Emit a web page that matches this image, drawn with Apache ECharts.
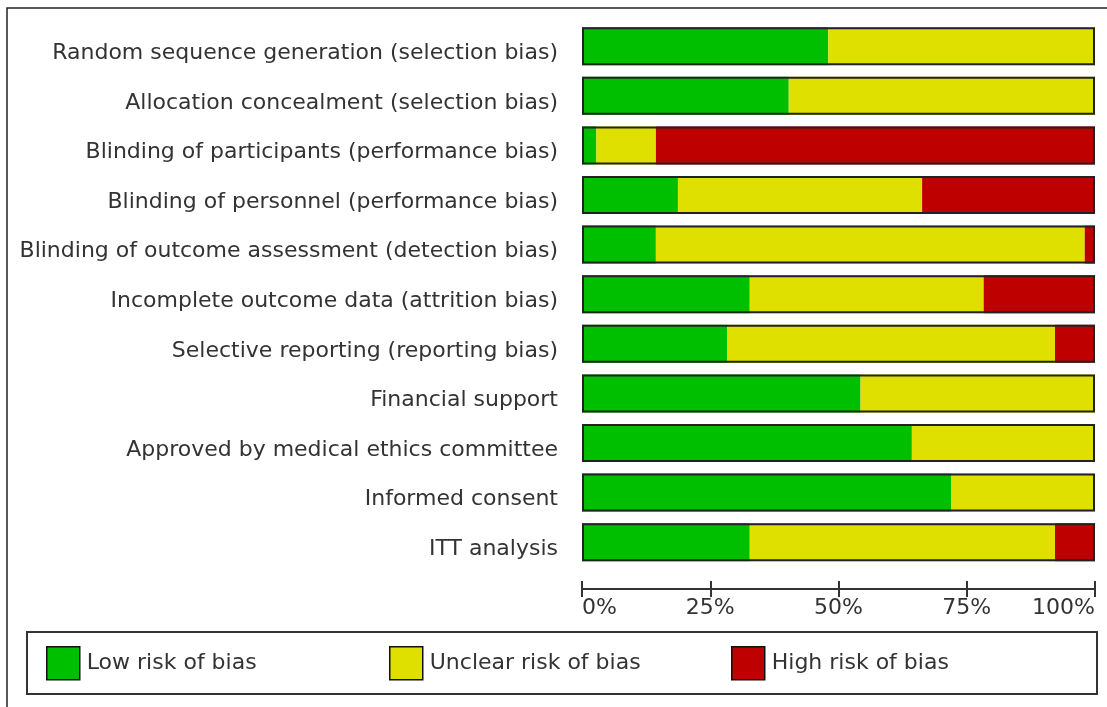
<!DOCTYPE html>
<html lang="en">
<head>
    <meta charset="UTF-8">
    <title>Risk of bias graph</title>
    <style>
        html, body {
            margin: 0;
            padding: 0;
            background: #ffffff;
        }

        #rob {
            width: 1107px;
            height: 707px;
        }
    </style>
</head>
<body>
<div id="rob"></div>
<script src="https://cdn.jsdelivr.net/npm/echarts@6/dist/echarts.min.js"></script>
<script>
    /*数据*/
    var categories = [
        'Random sequence generation (selection bias)',
        'Allocation concealment (selection bias)',
        'Blinding of participants (performance bias)',
        'Blinding of personnel (performance bias)',
        'Blinding of outcome assessment (detection bias)',
        'Incomplete outcome data (attrition bias)',
        'Selective reporting (reporting bias)',
        'Financial support',
        'Approved by medical ethics committee',
        'Informed consent',
        'ITT analysis'
    ];
    var lowRisk = [48.0, 40.3, 2.8, 18.7, 14.4, 32.7, 28.3, 54.3, 64.3, 72.0, 32.7];
    var unclearRisk = [52.0, 59.7, 11.6, 47.6, 83.6, 45.6, 63.9, 45.7, 35.7, 28.0, 59.5];
    var highRisk = [0, 0, 85.6, 33.7, 2.0, 21.7, 7.8, 0, 0, 0, 7.8];
    var fullBar = [100, 100, 100, 100, 100, 100, 100, 100, 100, 100, 100];
    var tickValues = [0, 25, 50, 75, 100];
    var legendNames = ['Low risk of bias', 'Unclear risk of bias', 'High risk of bias'];

    var font = 'DejaVu Sans';
    var textColor = '#333333';

    // 图例，一项一个，位置固定
    var legendLeft = [46, 389, 731];
    var legends = [];
    for (var i = 0; i < legendNames.length; i++) {
        legends.push({
            data: [legendNames[i]],
            left: legendLeft[i],
            top: 646,
            padding: 0,
            itemWidth: 33,
            itemHeight: 33,
            icon: 'rect',
            itemStyle: {borderColor: '#111111', borderWidth: 1.5},
            textStyle: {
                fontFamily: font,
                fontSize: 22,
                color: textColor,
                padding: [0, 0, 0, 2]
            },
            selectedMode: false
        });
    }

    var rob = echarts.init(document.getElementById('rob'));
    var rob_option = {
        animation: false,
        backgroundColor: '#ffffff',
        textStyle: {fontFamily: font},
        grid: {
            left: 582,
            right: 12,
            top: 21.4,
            height: 545.6,
            containLabel: false
        },
        legend: legends,
        xAxis: [
            {
                type: 'value',
                min: tickValues[0],
                max: tickValues[tickValues.length - 1],
                interval: 25,
                position: 'bottom',
                offset: 22,
                axisLine: {show: true, lineStyle: {color: '#333333', width: 2}},
                axisTick: {show: true, length: 8, lineStyle: {color: '#333333', width: 2}},
                splitLine: {show: false},
                axisLabel: {
                    formatter: '{value}%',
                    fontFamily: font,
                    fontSize: 22,
                    color: textColor,
                    margin: 8,
                    alignMinLabel: 'left',
                    alignMaxLabel: 'right'
                }
            },
            {
                type: 'value',
                min: tickValues[0],
                max: tickValues[tickValues.length - 1],
                interval: 25,
                position: 'bottom',
                offset: 22,
                axisLine: {show: false},
                axisTick: {show: true, inside: true, length: 8, lineStyle: {color: '#333333', width: 2}},
                splitLine: {show: false},
                axisLabel: {show: false}
            }
        ],
        yAxis: {
            type: 'category',
            data: categories,
            inverse: true,
            axisLine: {show: false},
            axisTick: {show: false},
            axisLabel: {
                fontFamily: font,
                fontSize: 22,
                color: textColor,
                margin: 24,
                verticalAlign: 'top',
                lineHeight: 14
            }
        },
        series: [
            {
                name: 'Low risk of bias',
                type: 'bar',
                stack: 'rob',
                barWidth: 38,
                data: lowRisk,
                itemStyle: {color: '#00bf00'},
                silent: true
            },
            {
                name: 'Unclear risk of bias',
                type: 'bar',
                stack: 'rob',
                barWidth: 38,
                data: unclearRisk,
                itemStyle: {color: '#e0e000'},
                silent: true
            },
            {
                name: 'High risk of bias',
                type: 'bar',
                stack: 'rob',
                barWidth: 38,
                data: highRisk,
                itemStyle: {color: '#bf0000'},
                silent: true
            },
            {
                // 外框
                name: 'outline',
                type: 'bar',
                barWidth: 38,
                barGap: '-100%',
                data: fullBar,
                z: 3,
                itemStyle: {color: 'transparent', borderColor: '#222222', borderWidth: 2},
                silent: true
            }
        ],
        graphic: [
            {
                type: 'rect',
                shape: {x: 7, y: 8, width: 1200, height: 800},
                style: {fill: 'none', stroke: '#222222', lineWidth: 1.5},
                silent: true,
                z: -1
            },
            {
                type: 'rect',
                shape: {x: 27, y: 632, width: 1070, height: 62},
                style: {fill: 'none', stroke: '#333333', lineWidth: 2},
                silent: true,
                z: -1
            }
        ]
    };
    rob.setOption(rob_option);
</script>
</body>
</html>
